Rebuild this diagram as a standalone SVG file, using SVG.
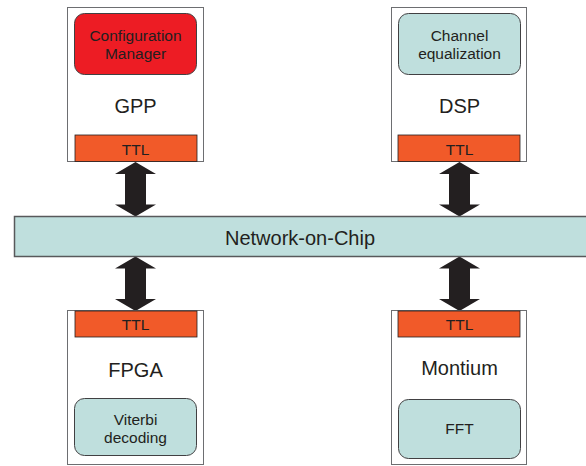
<svg xmlns="http://www.w3.org/2000/svg" width="586" height="466" viewBox="0 0 586 466">
<defs>
<style>
.box{fill:#ffffff;stroke:#6d6e71;stroke-width:1}
.ttl{fill:#f15a29;stroke:#231f20;stroke-width:0.8}
.red{fill:#ed1c24;stroke:#414042;stroke-width:1}
.teal{fill:#bfdfdd;stroke:#414042;stroke-width:1}
.arrow{fill:#231f20}
text{font-family:"Liberation Sans",Arial,sans-serif;fill:#231f20;text-anchor:middle}
.s{font-size:15.5px}
.l{font-size:20px}
</style>
<path id="arrow" d="M0,0 L20.5,12 L10.5,12 L10.5,42.5 L20.5,42.5 L0,54.5 L-20.5,42.5 L-10.5,42.5 L-10.5,12 L-20.5,12 Z"/>
</defs>
<g id="connectors">
<use href="#arrow" class="arrow" x="135.5" y="162"/>
<use href="#arrow" class="arrow" x="459.5" y="162"/>
<use href="#arrow" class="arrow" x="135.5" y="256.5"/>
<use href="#arrow" class="arrow" x="459.5" y="256.5"/>
</g>
<g id="noc">
<rect x="14.5" y="216.5" width="580" height="40" fill="#bfdfdd" stroke="#58595b" stroke-width="1.5"/>
<text class="l" x="300" y="244.5">Network-on-Chip</text>
</g>
<g id="gpp">
<rect class="box" x="67.5" y="7.5" width="136" height="154"/>
<rect class="red" x="74.5" y="13.5" width="122" height="61" rx="10"/>
<text class="s" x="135.5" y="41">Configuration</text>
<text class="s" x="135.5" y="59">Manager</text>
<text class="l" x="135.5" y="113">GPP</text>
<rect class="ttl" x="75" y="135" width="122" height="26.5"/>
<text class="s" x="135.5" y="154.5">TTL</text>
</g>
<g id="dsp">
<rect class="box" x="391.5" y="7.5" width="135" height="154"/>
<rect class="teal" x="398.5" y="13.5" width="122" height="61" rx="10"/>
<text class="s" x="459.5" y="40.5">Channel</text>
<text class="s" x="459.5" y="58.5">equalization</text>
<text class="l" x="459.5" y="113">DSP</text>
<rect class="ttl" x="398" y="135" width="122" height="26.5"/>
<text class="s" x="459.5" y="154.5">TTL</text>
</g>
<g id="fpga">
<rect class="box" x="67.5" y="310.5" width="136" height="154"/>
<rect class="ttl" x="75" y="311" width="122" height="26"/>
<text class="s" x="135.5" y="329.5">TTL</text>
<text class="l" x="135.5" y="377">FPGA</text>
<rect class="teal" x="74.5" y="398.5" width="122" height="57" rx="10"/>
<text class="s" x="135.5" y="424.5">Viterbi</text>
<text class="s" x="135.5" y="442.5">decoding</text>
</g>
<g id="montium">
<rect class="box" x="391.5" y="310.5" width="135" height="154"/>
<rect class="ttl" x="398" y="311" width="122" height="26"/>
<text class="s" x="459.5" y="329.5">TTL</text>
<text class="l" x="459.5" y="375">Montium</text>
<rect class="teal" x="398.5" y="399.5" width="122" height="59" rx="10"/>
<text class="s" x="459.5" y="433.5">FFT</text>
</g>
</svg>
